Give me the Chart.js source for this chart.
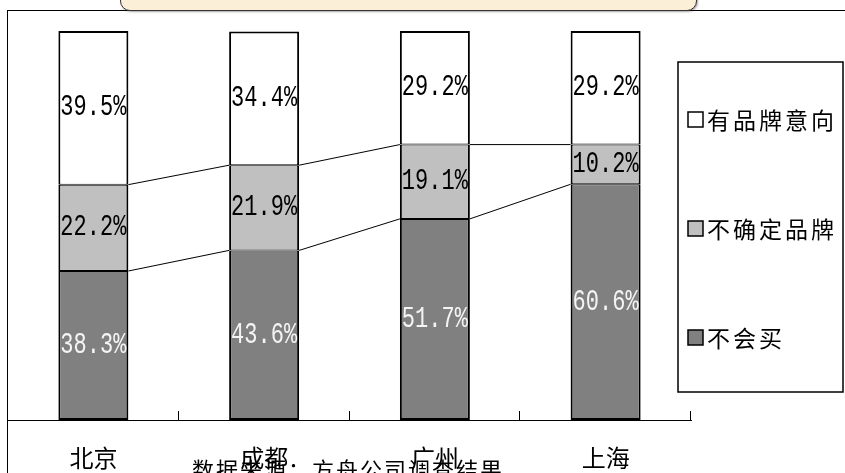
<!DOCTYPE html>
<html>
<head>
  <meta charset="utf-8">
  <title>各城市购买意向</title>
  <script src="https://cdn.jsdelivr.net/npm/chart.js"></script>
  <style>
    body {
      margin: 0;
      overflow: hidden;
      background: #fff;
    }
    #wrap {
      position: relative;
      width: 845px;
      height: 473px;
      overflow: hidden;
    }
    #frame {
      position: absolute;
      left: 7px;
      top: 10px;
      width: 900px;
      height: 500px;
      border-left: 1px solid #000;
      border-top: 1px solid #000;
    }
    #titleBox {
      position: absolute;
      left: 120px;
      top: -24px;
      width: 575px;
      height: 33px;
      background: #fcefd8;
      border: 1.5px solid #333;
      border-radius: 10px;
      box-shadow: 1px 1px 2px rgba(0,0,0,0.35);
      z-index: 3;
    }
    #source {
      position: absolute;
      left: 192px;
      top: 457px;
      font-family: "Noto Sans CJK SC";
      font-size: 22px;
      line-height: 22px;
      letter-spacing: 2px;
      white-space: nowrap;
      z-index: 2;
    }
    canvas {
      position: absolute;
      left: 0;
      top: 0;
      z-index: 1;
    }
  </style>
</head>
<body>
  <div id="wrap">
    <div id="frame"></div>
    <div id="titleBox"></div>
    <canvas id="chart" width="845" height="473"></canvas>
    <div id="source">数据来源：方舟公司调查结果</div>
  </div>

  <script>
    var cities = ["北京", "成都", "广州", "上海"];
    var seriesNames = ["不会买", "不确定品牌", "有品牌意向"];
    var wontBuy = [38.3, 43.6, 51.7, 60.6];
    var unsure = [22.2, 21.9, 19.1, 10.2];
    var brandIntent = [39.5, 34.4, 29.2, 29.2];

    var fills = ["#808080", "#c0c0c0", "#ffffff"];
    var labelColors = ["#f4f4f4", "#000000", "#000000"];

    // 막대 사이 작은 눈금 (축 위쪽으로)
    var axisTicks = {
      id: "axisTicks",
      afterDraw: function(chart) {
        var x = chart.scales.x;
        var ctx = chart.ctx;
        var half = (x.getPixelForValue(1) - x.getPixelForValue(0)) / 2;
        ctx.save();
        ctx.strokeStyle = "#000";
        ctx.lineWidth = 1;
        ctx.beginPath();
        for (var i = 0; i < cities.length; i++) {
          var px = Math.round(x.getPixelForValue(i) + half) - 0.5;
          ctx.moveTo(px, x.top);
          ctx.lineTo(px, x.top - 9);
        }
        ctx.stroke();
        ctx.restore();
      }
    };

    // 계열선
    var seriesLines = {
      id: "seriesLines",
      afterDatasetsDraw: function(chart) {
        var ctx = chart.ctx;
        ctx.save();
        ctx.strokeStyle = "#000";
        ctx.lineWidth = 1;
        for (var d = 0; d < chart.data.datasets.length - 1; d++) {
          var bars = chart.getDatasetMeta(d).data;
          ctx.beginPath();
          for (var i = 0; i < bars.length - 1; i++) {
            ctx.moveTo(bars[i].x + bars[i].width / 2, bars[i].y);
            ctx.lineTo(bars[i + 1].x - bars[i + 1].width / 2, bars[i + 1].y);
          }
          ctx.stroke();
        }
        ctx.restore();
      }
    };

    var valueLabels = {
      id: "valueLabels",
      afterDatasetsDraw: function(chart) {
        var ctx = chart.ctx;
        chart.data.datasets.forEach(function(ds, d) {
          chart.getDatasetMeta(d).data.forEach(function(bar, i) {
            ctx.save();
            ctx.translate(bar.x, (bar.y + bar.base) / 2);
            ctx.scale(1, 1.3);
            ctx.font = '22px "Liberation Mono"';
            ctx.textAlign = "center";
            ctx.textBaseline = "middle";
            ctx.fillStyle = labelColors[d];
            ctx.fillText(ds.data[i].toFixed(1) + "%", 0, 0);
            ctx.restore();
          });
        });
      }
    };

    // 테두리 있는 범례
    var boxLegend = {
      id: "boxLegend",
      afterDraw: function(chart) {
        var ctx = chart.ctx;
        var left = chart.chartArea.right - 13;
        var top = 62, w = 165, h = 330;
        ctx.save();
        ctx.fillStyle = "#fff";
        ctx.fillRect(left, top, w, h);
        ctx.strokeStyle = "#000";
        ctx.lineWidth = 1.5;
        ctx.strokeRect(left, top, w, h);
        var sets = chart.data.datasets;
        for (var k = 0; k < sets.length; k++) {
          var d = sets.length - 1 - k;
          var cy = 119 + k * 109;
          ctx.fillStyle = sets[d].backgroundColor;
          ctx.fillRect(left + 10, cy - 7, 15, 15);
          ctx.lineWidth = 1.5;
          ctx.strokeRect(left + 10, cy - 7, 15, 15);
          ctx.fillStyle = "#000";
          ctx.font = '23px "Noto Sans CJK SC"';
          ctx.letterSpacing = "3px";
          ctx.textAlign = "left";
          ctx.textBaseline = "middle";
          ctx.fillText(sets[d].label, left + 29, cy + 1);
          ctx.letterSpacing = "0px";
        }
        ctx.restore();
      }
    };

    var values = [wontBuy, unsure, brandIntent];
    var last = values.length - 1;
    var datasets = values.map(function(v, d) {
      return {
        label: seriesNames[d],
        data: v,
        backgroundColor: fills[d],
        borderColor: "#000",
        borderWidth: {
          left: 2,
          right: 2,
          top: d === last ? 2 : 1,
          bottom: d === 0 ? 2 : 1
        },
        borderSkipped: false,
        barPercentage: 0.41,
        categoryPercentage: 1
      };
    });

    var ctx = document.getElementById("chart").getContext("2d");
    var chart = new Chart(ctx, {
      type: "bar",
      data: {
        labels: cities,
        datasets: datasets
      },
      options: {
        responsive: false,
        animation: false,
        layout: {
          padding: { left: 8, right: 154, top: 31, bottom: 0 }
        },
        plugins: {
          legend: { display: false },
          tooltip: { enabled: false }
        },
        scales: {
          x: {
            stacked: true,
            grid: { display: true, drawOnChartArea: false, drawTicks: false },
            border: { display: true, color: "#000", width: 1 },
            ticks: {
              color: "#000",
              padding: 23,
              font: { family: "Noto Sans CJK SC", size: 24 }
            },
            afterFit: function(scale) {
              scale.height = 53;
            }
          },
          y: {
            stacked: true,
            display: false,
            min: 0,
            max: 100
          }
        }
      },
      plugins: [axisTicks, seriesLines, valueLabels, boxLegend]
    });
  </script>
</body>
</html>
